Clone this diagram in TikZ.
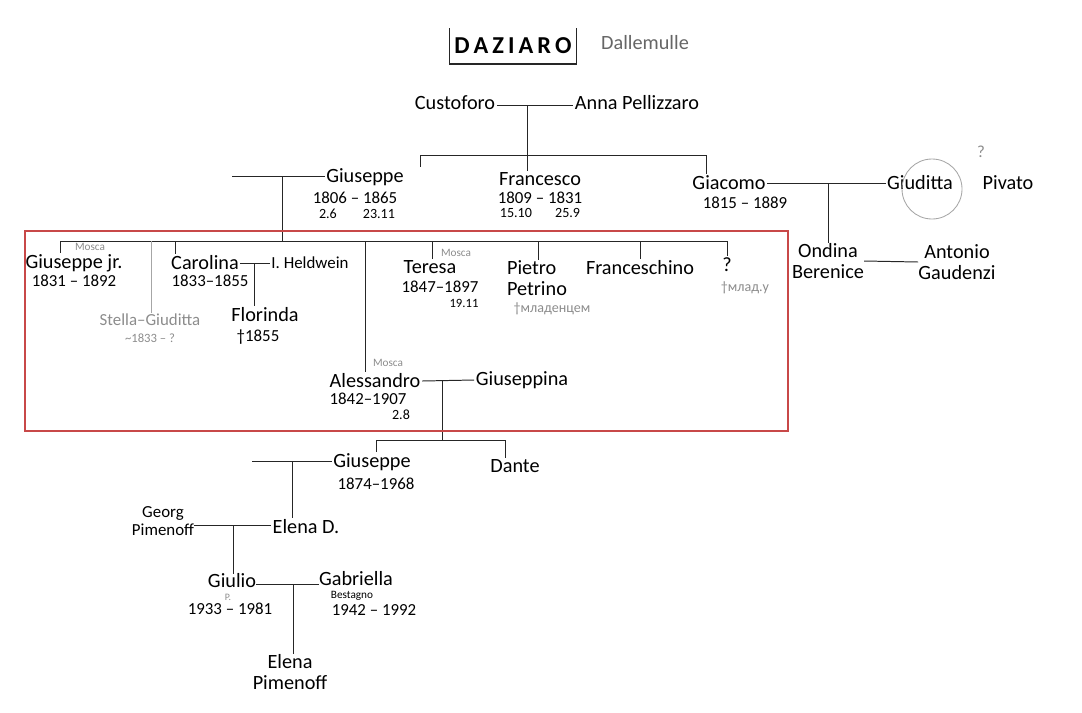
\documentclass[tikz,border=0pt]{standalone}
\usepackage{fontspec}
\setmainfont{Carlito}
\usetikzlibrary{positioning}
\definecolor{boxred}{RGB}{200,72,72}

\begin{document}
\begin{tikzpicture}[
    x=0.025cm, y=-0.025cm,
    person/.style={inner sep=1pt, font=\Large},
    dates/.style={inner sep=0.5pt, font=\large},
    smalltext/.style={inner sep=0.5pt, font=\normalsize},
    faded/.style={inner sep=0.5pt, text=black!45},
    tie/.style={draw=black!85, line width=0.7pt},
    faint/.style={draw=black!35, line width=0.6pt},
    every node/.style={align=center}
]
\useasboundingbox (0,0) rectangle (1082,712);

% Title
\node (title) [minimum width=90pt, minimum height=25pt, inner sep=0pt, font=\LARGE\bfseries] at (513,46) {D\,A\,Z\,I\,A\,R\,O};
\node (dalle) [faded, text=black!60, font=\Large] at (645,43) {Dallemulle};
\draw [tie, line width=1.2pt] (title.north west) -- (title.south west) -- (title.south east) -- (title.north east);

% Nodes
\node (custo) [person] at (455,103) {Custoforo};
\node (anna) [person] at (637,103) {Anna Pellizzaro};

\node (giu1) [person] at (365,177) {Giuseppe};
\node (giu1d) [dates] at (355,198) {1806 -- 1865};
\node (giu1e) [smalltext] at (357,214) {2.6 \hspace{1.4em} 23.11};
\node (fran) [person] at (540,179) {Francesco};
\node (frand) [dates] at (540,198) {1809 -- 1831};
\node (frane) [smalltext] at (540,213) {15.10 \hspace{1.2em} 25.9};
\node (giac) [person] at (729,183) {Giacomo};
\node (giacd) [dates] at (745,203) {1815 -- 1889};
\node (gdt) [person] at (920,183) {Giuditta};
\node (piv) [person] at (1008,183) {Pivato};
\node (qmark) [faded, font=\large] at (981,152) {?};
\node (ondina) [person, inner sep=0pt] at (828,261) {Ondina\\[-3pt]Berenice};
\node (antonio) [person, inner sep=0pt] at (957,262) {Antonio\\[-3pt]Gaudenzi};

\node (jr) [person] at (74,263) {Giuseppe jr.};
\node (jrm) [faded, font=\footnotesize] at (90,247) {Mosca};
\node (jrd) [dates] at (74,281) {1831 -- 1892};
\node (stella) [faded, font=\large] at (150,320) {Stella--Giuditta};
\node (stellad) [faded, font=\small] at (150,338) {\textasciitilde1833 -- ?};
\node (carol) [person] at (205,263) {Carolina};
\node (carold) [dates] at (210,281) {1833--1855};
\node (held) [person, font=\large] at (310,263) {I. Heldwein};
\node (flor) [person] at (265,315) {Florinda};
\node (flord) [dates] at (258,337) {†1855};
\node (teresa) [person] at (430,267) {Teresa};
\node (teresam) [faded, font=\footnotesize] at (456,253) {Mosca};
\node (teresad) [dates] at (440,287) {1847--1897};
\node (teresae) [smalltext, font=\small] at (464,303) {19.11};
\node (pietro) [person, inner sep=0pt, align=left] at (537,278) {Pietro\\[-3pt]Petrino};
\node (pietron) [faded] at (552,309) {†младенцем};
\node (fransch) [person] at (640,268) {Franceschino};
\node (qm) [person] at (727,265) {?};
\node (qmn) [faded] at (745,288) {†млад.у};

\node (aless) [person] at (375,381) {Alessandro};
\node (alessm) [faded, font=\footnotesize] at (388,363) {Mosca};
\node (alessd) [dates] at (368,399) {1842--1907};
\node (alesse) [smalltext] at (401,415) {2.8};
\node (gpina) [person] at (522,380) {Giuseppina};

\node (giu3) [person] at (372,462) {Giuseppe};
\node (giu3d) [dates] at (376,484) {1874--1968};
\node (dante) [person] at (515,466) {Dante};
\node (georg) [person, font=\large, inner sep=0pt] at (163,521) {Georg\\[-1pt]Pimenoff};
\node (elena) [person] at (306,527) {Elena D.};
\node (giulio) [person, inner sep=0pt] at (232,581) {Giulio};
\node (giuliop) [faded, font=\scriptsize, inner sep=0pt] at (228,597) {P.};
\node (giuliod) [dates] at (230,609) {1933 -- 1981};
\node (gabri) [person, inner sep=0pt] at (356,579) {Gabriella};
\node (bestagno) [smalltext, font=\footnotesize, inner sep=0pt] at (352,596) {Bestagno};
\node (gabrid) [dates] at (374,610) {1942 -- 1992};
\node (elena2) [person, inner sep=0pt] at (290,672) {Elena\\[-3pt]Pimenoff};

% Junctions
\coordinate (m1) at (527,105);
\coordinate (b1a) at (420,155);
\coordinate (b1b) at (706,155);
\coordinate (m2) at (828,183);
\coordinate (sp1) at (232,176);
\coordinate (m3) at (282,176);
\coordinate (b2a) at (60,241);
\coordinate (b2b) at (727,241);
\coordinate (d2a) at (151,241);
\coordinate (d2b) at (175,241);
\coordinate (d2c) at (365,241);
\coordinate (d2d) at (432,241);
\coordinate (d2e) at (538,241);
\coordinate (d2f) at (640,241);
\coordinate (m4) at (254,263);
\coordinate (m5) at (442,380);
\coordinate (b3a) at (376,440);
\coordinate (b3b) at (505,440);
\coordinate (sp2) at (252,461);
\coordinate (m6) at (292,461);
\coordinate (m7) at (233,525);
\coordinate (m8) at (293,584);

% Lines
\draw [tie] (custo.east |- m1) -- (anna.west |- m1);
\draw [tie] (m1) -- (fran.north -| m1);
\draw [tie] (b1a |- giu1.north) -- (b1a) -- (b1b) -- (b1b |- giac.north);

\draw [tie] (giac.east) -- (gdt.west);
\draw [tie] (m2) -- (m2 |- ondina.north);
\draw [tie] (ondina.east) -- (antonio.west);
\draw [faint] (932,189) circle [radius=30];

\draw [tie] (sp1) -- (giu1.west |- sp1);
\draw [tie] (m3) -- (m3 |- b2a);
\draw [tie] (b2a |- jr.north) -- (b2a) -- (b2b) -- (b2b |- qm.north);
\draw [faint] (d2a) -- (d2a |- stella.north);
\draw [tie] (d2b) -- (d2b |- carol.north);
\draw [tie] (d2c) -- (d2c |- aless.north);
\draw [tie] (d2d) -- (d2d |- teresa.north);
\draw [tie] (d2e) -- (d2e |- pietro.north);
\draw [tie] (d2f) -- (d2f |- fransch.north);

\draw [tie] (carol.east) -- (held.west);
\draw [tie] (m4) -- (m4 |- flor.north);

\draw [tie] (aless.east) -- (gpina.west);
\draw [tie] (m5) -- (m5 |- b3a);
\draw [tie] (b3a |- giu3.north) -- (b3a) -- (b3b) -- (b3b |- dante.north);

\draw [tie] (sp2) -- (giu3.west |- sp2);
\draw [tie] (m6) -- (m6 |- elena.north);
\draw [tie] (georg.east |- m7) -- (elena.west |- m7);
\draw [tie] (m7) -- (m7 |- giulio.north);
\draw [tie] (giulio.east |- m8) -- (gabri.west |- m8);
\draw [tie] (m8) -- (m8 |- elena2.north);

% Highlight
\draw [boxred, line width=1.2pt] (25,231) rectangle (788,431);

\end{tikzpicture}
\end{document}
